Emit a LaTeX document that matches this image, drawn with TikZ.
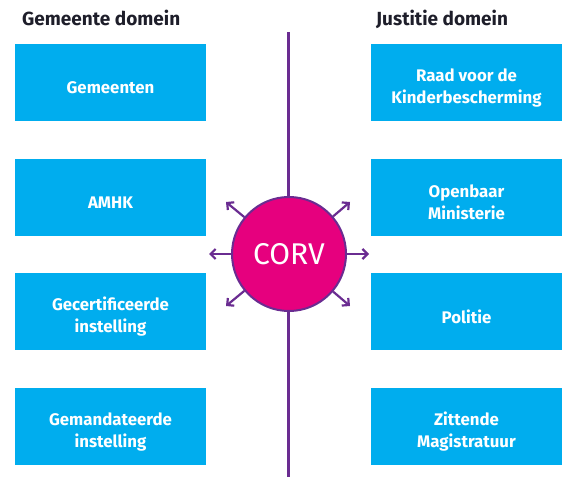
\documentclass[tikz,border=0pt]{standalone}
\usepackage{fontspec}
\setmainfont{Fira Sans}
\usetikzlibrary{arrows.meta}
\definecolor{boxblue}{HTML}{00ADEE}
\definecolor{corvpurple}{HTML}{6A2C91}
\definecolor{corvpink}{HTML}{E6007E}
\definecolor{titledark}{HTML}{1E1E2A}
\tikzset{
  x=1pt, y=-1pt,
  domainbox/.style={fill=boxblue, minimum width=191pt, minimum height=77pt, inner sep=0pt},
  boxtext/.style={inner sep=0pt, text=white, font=\fontsize{16.8}{22}\selectfont\bfseries, align=center},
  domaintitle/.style={anchor=base west, inner sep=0pt, text=titledark,
    font=\fontsize{19}{22}\selectfont\bfseries},
  corvarrow/.style={draw=corvpurple, line width=2.2pt, -{Straight Barb[length=5pt,width=10pt]}},
}
\begin{document}
\begin{tikzpicture}
\useasboundingbox (0,0) rectangle (574,484);
\node[domaintitle] (tl) at (22,26) {Gemeente domein};
\node[domaintitle] (tr) at (376,26) {Justitie domein};
\coordinate (ltop) at (288,32);
\coordinate (lbot) at (288,477);
\draw[corvpurple, line width=3pt] (ltop) -- (lbot);
\node[domainbox] (g1) at (110.5,83) {};
\node[domainbox] (g2) at (110.5,197.5) {};
\node[domainbox] (g3) at (110.5,311.5) {};
\node[domainbox] (g4) at (110.5,426.5) {};
\node[domainbox] (j1) at (466.5,83) {};
\node[domainbox] (j2) at (466.5,197.5) {};
\node[domainbox] (j3) at (466.5,311.5) {};
\node[domainbox] (j4) at (466.5,426.5) {};
\node[boxtext] (g1t) at ([yshift=-5pt]g1.center) {Gemeenten};
\node[boxtext] (g2t) at ([yshift=-5pt]g2.center) {AMHK};
\node[boxtext] (g3t) at ([yshift=-5pt]g3.center) {Gecertificeerde\\instelling};
\node[boxtext] (g4t) at ([yshift=-5pt]g4.center) {Gemandateerde\\instelling};
\node[boxtext] (j1t) at ([yshift=-5pt]j1.center) {Raad voor de\\Kinderbescherming};
\node[boxtext] (j2t) at ([yshift=-5pt]j2.center) {Openbaar\\Ministerie};
\node[boxtext] (j3t) at ([yshift=-5pt]j3.center) {Politie};
\node[boxtext] (j4t) at ([yshift=-5pt]j4.center) {Zittende\\Magistratuur};
\node[circle, fill=corvpink, draw=corvpurple, line width=2pt, minimum size=114pt, inner sep=0pt,
  text=white, font=\fontsize{30}{30}\selectfont] (corv) at (289,254) {CORV};
\coordinate (a1) at (209,254);
\coordinate (a2) at (369,254);
\coordinate (a3) at (226,202);
\coordinate (a4) at (350,202);
\coordinate (a5) at (226,306);
\coordinate (a6) at (350,306);
\foreach \t in {a1,a2,a3,a4,a5,a6}
  \draw[corvarrow] (corv) -- (\t);
\end{tikzpicture}
\end{document}
